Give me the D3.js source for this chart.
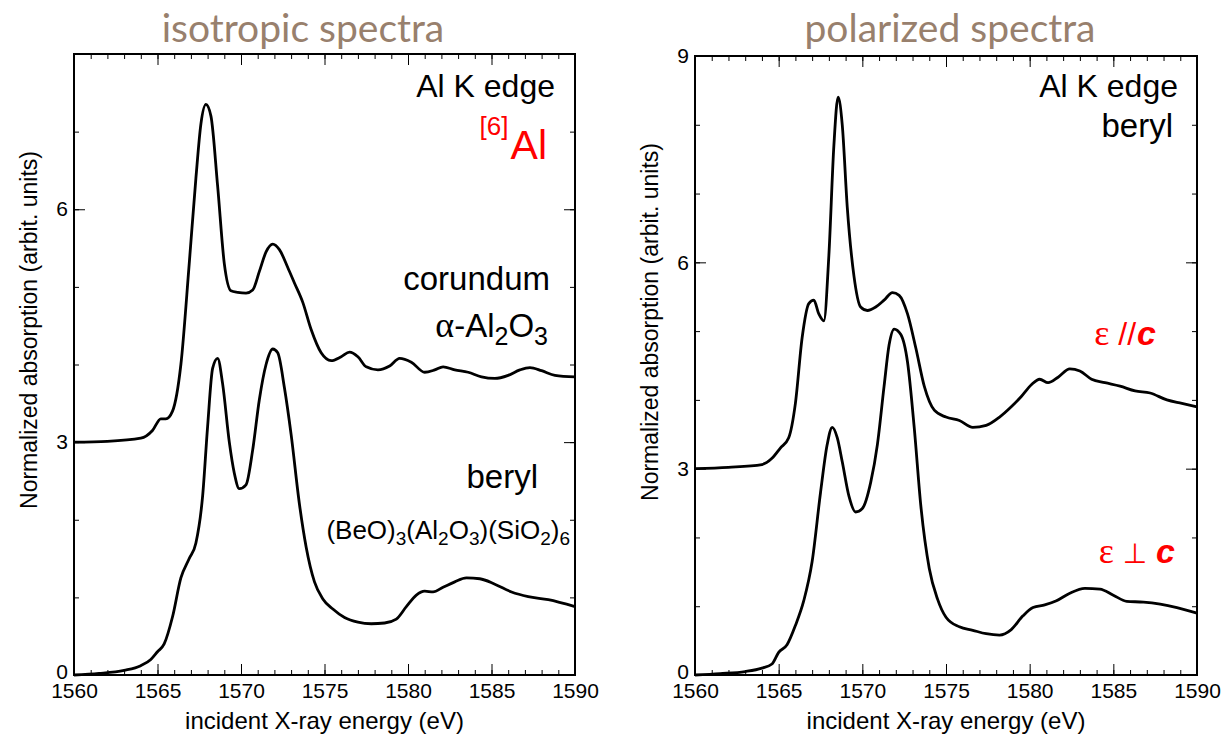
<!DOCTYPE html>
<html>
<head>
<meta charset="utf-8">
<script src="https://cdn.jsdelivr.net/npm/d3@7"></script>
<style>
  body { margin: 0; background: #fff; }
  svg text { font-family: "Liberation Sans", Arial, sans-serif; }
</style>
</head>
<body>
<svg id="chart" width="1224" height="738"></svg>
<script>
// corundum (isotropic, offset by 3)
const corundumE = [1560, 1562, 1564, 1564.7, 1565.2, 1565.5, 1565.9, 1566.4, 1566.9, 1567.3, 1567.6, 1567.9, 1568.2, 1568.6, 1569.0, 1569.4, 1569.8, 1570.3, 1570.7, 1571.1, 1571.5, 1571.9, 1572.3, 1572.8, 1573.2, 1573.7, 1574.2, 1574.8, 1575.4, 1576.0, 1576.5, 1577.0, 1577.5, 1578.2, 1578.9, 1579.5, 1580.2, 1581.0, 1581.6, 1582.1, 1582.8, 1583.6, 1584.4, 1585.2, 1586.0, 1586.7, 1587.3, 1588.0, 1588.8, 1590];
const corundumV = [3.0, 3.01, 3.05, 3.15, 3.3, 3.3, 3.4, 4.0, 5.3, 6.4, 7.1, 7.35, 7.2, 6.3, 5.3, 4.95, 4.93, 4.92, 4.96, 5.2, 5.45, 5.55, 5.48, 5.25, 5.05, 4.8, 4.45, 4.15, 4.05, 4.1, 4.16, 4.1, 3.97, 3.93, 3.98, 4.08, 4.03, 3.9, 3.93, 3.97, 3.93, 3.9, 3.84, 3.82, 3.86, 3.93, 3.96, 3.92, 3.86, 3.84];

// beryl (isotropic)
const berylE = [1560, 1561.5, 1563, 1564, 1564.6, 1565.0, 1565.4, 1565.9, 1566.4, 1566.9, 1567.3, 1567.7, 1568.0, 1568.3, 1568.6, 1568.9, 1569.3, 1569.6, 1569.9, 1570.3, 1570.7, 1571.1, 1571.5, 1571.9, 1572.2, 1572.6, 1573.0, 1573.5, 1573.9, 1574.4, 1574.9, 1575.5, 1576.2, 1577.0, 1577.8, 1578.6, 1579.3, 1579.9, 1580.5, 1581.0, 1581.5, 1582.1, 1582.8, 1583.5, 1584.3, 1585.2, 1586.2, 1587.2, 1588.4, 1590];
const berylV = [0.0, 0.02, 0.06, 0.12, 0.2, 0.3, 0.4, 0.75, 1.25, 1.5, 1.7, 2.3, 3.2, 3.95, 4.08, 3.75, 3.0, 2.6, 2.4, 2.45, 2.9, 3.55, 4.0, 4.2, 4.15, 3.7, 3.1, 2.2, 1.65, 1.2, 0.98, 0.85, 0.74, 0.68, 0.66, 0.67, 0.72, 0.88, 1.03, 1.08, 1.07, 1.13, 1.2, 1.25, 1.24, 1.17, 1.07, 1.01, 0.97, 0.88];

// beryl, e // c (offset by 3)
const paraE = [1560, 1562, 1564, 1564.6, 1565.1, 1565.6, 1566.0, 1566.4, 1566.8, 1567.1, 1567.4, 1567.7, 1568.0, 1568.3, 1568.55, 1568.8, 1569.1, 1569.5, 1569.9, 1570.3, 1570.8, 1571.3, 1571.8, 1572.2, 1572.7, 1573.2, 1573.7, 1574.3, 1575.0, 1575.8, 1576.6, 1577.4, 1578.2, 1578.9, 1579.5, 1580.1, 1580.6, 1581.1, 1581.7, 1582.4, 1583.0, 1583.7, 1584.5, 1585.4, 1586.3, 1587.2, 1588.2, 1589.1, 1590];
const paraV = [3.0, 3.02, 3.06, 3.15, 3.3, 3.45, 3.95, 4.9, 5.4, 5.45, 5.25, 5.15, 6.1, 7.7, 8.4, 8.0, 6.8, 5.8, 5.35, 5.3, 5.35, 5.45, 5.56, 5.52, 5.25, 4.75, 4.2, 3.85, 3.75, 3.7, 3.6, 3.63, 3.75, 3.9, 4.05, 4.22, 4.3, 4.25, 4.33, 4.45, 4.42, 4.3, 4.25, 4.2, 4.13, 4.1, 4.0, 3.95, 3.9];

// beryl, e perp c
const perpE = [1560, 1561.5, 1563, 1564, 1564.6, 1565.0, 1565.5, 1566.0, 1566.5, 1567.0, 1567.5, 1567.9, 1568.2, 1568.5, 1568.8, 1569.2, 1569.6, 1570.0, 1570.5, 1570.9, 1571.3, 1571.6, 1571.9, 1572.3, 1572.7, 1573.1, 1573.5, 1574.0, 1574.5, 1575.0, 1575.8, 1576.6, 1577.4, 1578.2, 1578.9, 1579.6, 1580.2, 1580.9, 1581.6, 1582.4, 1583.3, 1584.2, 1585.0, 1585.8, 1586.8, 1587.8, 1588.8, 1590];
const perpV = [0.0, 0.02, 0.05, 0.1, 0.16, 0.33, 0.44, 0.72, 1.08, 1.65, 2.65, 3.35, 3.6, 3.45, 3.1, 2.6, 2.37, 2.42, 2.8, 3.35, 4.2, 4.8, 5.03, 4.95, 4.55, 3.6, 2.45, 1.55, 1.1, 0.84, 0.7, 0.65, 0.6, 0.58, 0.66, 0.86, 0.98, 1.02, 1.08, 1.19, 1.26, 1.25, 1.16, 1.07, 1.06, 1.03, 0.98, 0.9];

const xDomain = [1560, 1590];
const xMajor = [1560, 1565, 1570, 1575, 1580, 1585, 1590];
const xMinor = d3.range(1560, 1591, 1);

const panels = [
  {
    frame: { x0: 74, x1: 575, y0: 54, y1: 675 },
    yMax: 8,
    yMajor: [0, 3, 6],
    title: "isotropic spectra",
    titleX: 303,
    yLabelX: 37,
    yLabelY: 330,
    series: [[corundumE, corundumV], [berylE, berylV]]
  },
  {
    frame: { x0: 695, x1: 1197, y0: 56, y1: 675 },
    yMax: 9,
    yMajor: [0, 3, 6, 9],
    title: "polarized spectra",
    titleX: 950,
    yLabelX: 658,
    yLabelY: 322,
    series: [[paraE, paraV], [perpE, perpV]]
  }
];

const svg = d3.select("#chart");

function drawPanel(p) {
  const { x0, x1, y0, y1 } = p.frame;
  const x = d3.scaleLinear().domain(xDomain).range([x0, x1]);
  const y = d3.scaleLinear().domain([0, p.yMax]).range([y1, y0]);
  const g = svg.append("g");

  const yMinor = d3.range(0, p.yMax + 1, 1);

  // minor ticks on all four sides, pointing inward
  [[d3.axisBottom(x).tickValues(xMinor), y1], [d3.axisTop(x).tickValues(xMinor), y0]]
    .forEach(([ax, ty]) => {
      g.append("g").attr("transform", `translate(0,${ty})`)
        .call(ax.tickSize(-5).tickFormat(""))
        .call(s => s.select(".domain").remove());
    });
  [[d3.axisLeft(y).tickValues(yMinor), x0], [d3.axisRight(y).tickValues(yMinor), x1]]
    .forEach(([ax, tx]) => {
      g.append("g").attr("transform", `translate(${tx},0)`)
        .call(ax.tickSize(-5).tickFormat(""))
        .call(s => s.select(".domain").remove());
    });

  // major ticks
  g.append("g").attr("transform", `translate(0,${y1})`)
    .call(d3.axisBottom(x).tickValues(xMajor).tickSize(-11).tickPadding(4).tickFormat(d3.format("d")))
    .call(s => s.select(".domain").remove())
    .call(s => s.selectAll("text").attr("dy", "0.95em").attr("y", 3));
  g.append("g").attr("transform", `translate(0,${y0})`)
    .call(d3.axisTop(x).tickValues(xMajor).tickSize(-11).tickFormat(""))
    .call(s => s.select(".domain").remove());
  g.append("g").attr("transform", `translate(${x0},0)`)
    .call(d3.axisLeft(y).tickValues(p.yMajor).tickSize(-11).tickPadding(6).tickFormat(d3.format("d")))
    .call(s => s.select(".domain").remove())
    .call(s => s.selectAll("text").filter(d => d === 0).attr("y", -3));
  g.append("g").attr("transform", `translate(${x1},0)`)
    .call(d3.axisRight(y).tickValues(p.yMajor).tickSize(-11).tickFormat(""))
    .call(s => s.select(".domain").remove());

  g.selectAll(".tick line").attr("stroke", "#000").attr("stroke-width", 1);
  g.selectAll(".tick text")
    .attr("font-family", "Liberation Sans, Arial, sans-serif")
    .attr("font-size", 21).attr("fill", "#000");

  // frame
  g.append("rect")
    .attr("x", x0).attr("y", y0)
    .attr("width", x1 - x0).attr("height", y1 - y0)
    .attr("fill", "none").attr("stroke", "#000").attr("stroke-width", 2);

  // curves
  const line = d3.line()
    .x(d => x(d[0])).y(d => y(d[1]))
    .curve(d3.curveMonotoneX);
  p.series.forEach(([es, vs]) => {
    g.append("path")
      .datum(es.map((e, i) => [e, vs[i]]))
      .attr("d", line)
      .attr("fill", "none")
      .attr("stroke", "#000")
      .attr("stroke-width", 2.8)
      .attr("stroke-linejoin", "round");
  });

  // axis titles
  g.append("text")
    .attr("x", (x0 + x1) / 2).attr("y", 729)
    .attr("text-anchor", "middle").attr("font-size", 24)
    .text("incident X-ray energy (eV)");
  g.append("text")
    .attr("transform", `translate(${p.yLabelX},${p.yLabelY}) rotate(-90)`)
    .attr("text-anchor", "middle").attr("font-size", 23)
    .text("Normalized absorption (arbit. units)");

  // panel title
  svg.append("text")
    .attr("x", p.titleX).attr("y", 42)
    .attr("text-anchor", "middle")
    .style("font-family", "Lato, 'Open Sans', sans-serif")
    .attr("font-size", 39).attr("fill", "#98806d")
    .text(p.title);

  return g;
}

const [gl, gr] = panels.map(drawPanel);

// text with mixed runs; each run may carry its own size, shift, style
function label(g, xx, yy, size, color, parts) {
  const t = g.append("text").attr("x", xx).attr("y", yy)
    .attr("text-anchor", "end").attr("font-size", size).attr("fill", color);
  parts.forEach(pt => {
    const ts = t.append("tspan").text(pt.t);
    if (pt.size) ts.attr("font-size", pt.size);
    if (pt.shift) ts.attr("baseline-shift", pt.shift);
    if (pt.it) ts.attr("font-style", "italic");
    if (pt.bold) ts.attr("font-weight", "bold");
    if (pt.font) ts.style("font-family", pt.font);
    if (pt.dx) ts.attr("dx", pt.dx);
  });
  return t;
}

const serif = "'Liberation Serif', 'DejaVu Serif', serif";
const sub = (t, s) => ({ t, size: s, shift: "-32%" });

// left annotations
label(gl, 555, 97, 32, "#000", [{ t: "Al K edge" }]);
label(gl, 547, 159, 41, "#ff0000", [{ t: "[6]", size: 26, shift: "24px" }, { t: "Al", dx: 2 }]);
label(gl, 550, 290, 33, "#000", [{ t: "corundum" }]);
label(gl, 548, 337, 33, "#000", [{ t: "α", font: serif, size: 36 }, { t: "-Al" }, sub("2", 25), { t: "O" }, sub("3", 25)]);
label(gl, 538, 488, 33, "#000", [{ t: "beryl" }]);
label(gl, 570, 539, 26, "#000", [
  { t: "(BeO)" }, sub("3", 19), { t: "(Al" }, sub("2", 19), { t: "O" }, sub("3", 19),
  { t: ")(SiO" }, sub("2", 19), { t: ")" }, sub("6", 19)
]);

// right annotations
label(gr, 1178, 97, 32, "#000", [{ t: "Al K edge" }]);
label(gr, 1173, 137, 33, "#000", [{ t: "beryl" }]);
label(gr, 1156, 345, 34, "#ff0000", [
  { t: "ε", font: serif, size: 36 }, { t: " //", size: 32 }, { t: "c", it: true, bold: true, dx: 1 }
]);
label(gr, 1175, 563, 34, "#ff0000", [
  { t: "ε", font: serif, size: 36 }, { t: " ⊥ ", font: "'DejaVu Sans', sans-serif", size: 28 },
  { t: "c", it: true, bold: true }
]);
</script>
</body>
</html>
